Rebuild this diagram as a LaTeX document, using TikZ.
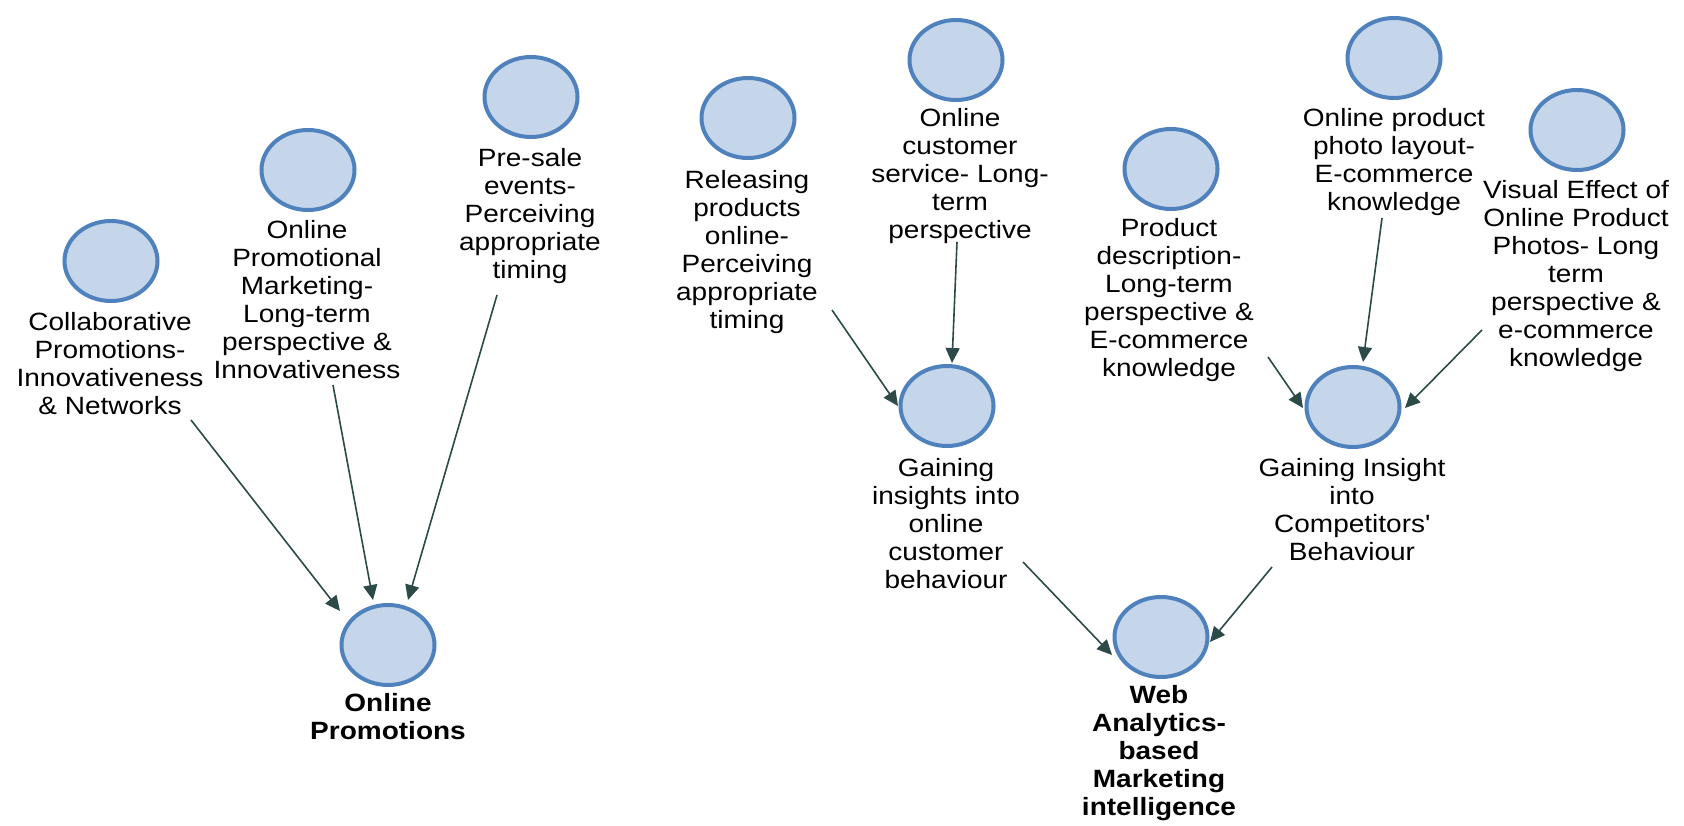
\documentclass[tikz,border=0pt]{standalone}
\usepackage{fontspec}
\setmainfont{Liberation Sans}[FakeStretch=1.12]
\usetikzlibrary{shapes.geometric,arrows.meta}
\definecolor{bubblefill}{RGB}{197,214,234}
\definecolor{bubbleline}{RGB}{79,129,189}
\definecolor{linkcol}{RGB}{44,74,72}
\begin{document}
\begin{tikzpicture}[x=1pt,y=-1pt,
  bubble/.style={ellipse, draw=bubbleline, fill=bubblefill, line width=4pt,
    minimum width=93pt, minimum height=80pt, inner sep=0pt},
  lab/.style={anchor=north, align=center, inner sep=0pt,
    font=\fontsize{25}{28}\selectfont},
  keylab/.style={lab, font=\fontsize{25}{28}\selectfont\bfseries},
  link/.style={draw=linkcol, line width=1.6pt,
    -{Triangle[length=15pt,width=14pt]}}]
\fill[white] (0,0) rectangle (1684,826);
\useasboundingbox (0,0) rectangle (1684,826);

% concept bubbles
\node[bubble] (c1)  at (111,261) {};
\node[bubble] (c2)  at (308,170) {};
\node[bubble] (c3)  at (531,97)  {};
\node[bubble] (c4)  at (748,118) {};
\node[bubble] (c5)  at (956,60)  {};
\node[bubble] (c6)  at (1171,169) {};
\node[bubble] (c7)  at (1394,58) {};
\node[bubble] (c8)  at (1577,130) {};
\node[bubble] (c9)  at (947,406) {};
\node[bubble] (c10) at (1353,407) {};
\node[bubble] (c11) at (388,645) {};
\node[bubble] (c12) at (1161,637) {};

% captions under the bubbles
\node[lab] (l1) at (110,312) {Collaborative\\Promotions-\\Innovativeness\\\& Networks};
\node[lab] (l2) at (307,220) {Online\\Promotional\\Marketing-\\Long-term\\perspective \&\\Innovativeness};
\node[lab] (l3) at (530,148) {Pre-sale\\events-\\Perceiving\\appropriate\\timing};
\node[lab] (l4) at (747,170) {Releasing\\products\\online-\\Perceiving\\appropriate\\timing};
\node[lab] (l5) at (960,108) {Online\\customer\\service- Long-\\term\\perspective};
\node[lab] (l6) at (1169,218) {Product\\description-\\Long-term\\perspective \&\\E-commerce\\knowledge};
\node[lab] (l7) at (1394,108) {Online product\\photo layout-\\E-commerce\\knowledge};
\node[lab] (l8) at (1576,180) {Visual Effect of\\Online Product\\Photos- Long\\term\\perspective \&\\e-commerce\\knowledge};
\node[lab] (l9) at (946,458) {Gaining\\insights into\\online\\customer\\behaviour};
\node[lab] (l10) at (1352,458) {Gaining Insight\\into\\Competitors\textquotesingle\\Behaviour};
\node[keylab] (l11) at (388,693) {Online\\Promotions};
\node[keylab] (l12) at (1159,685) {Web\\Analytics-\\based\\Marketing\\intelligence};

% links
\draw[link] ([shift={(81,108)}]l1.north)  -- ([shift={(-48,-34)}]c11.center);
\draw[link] ([shift={(26,165)}]l2.north)  -- ([shift={(-15,-45)}]c11.center);
\draw[link] ([shift={(-33,147)}]l3.north) -- ([shift={(20,-45)}]c11.center);
\draw[link] ([shift={(85,140)}]l4.north)  -- ([shift={(-49,0)}]c9.center);
\draw[link] ([shift={(-3,134)}]l5.north)  -- ([shift={(5,-43)}]c9.center);
\draw[link] ([shift={(99,139)}]l6.north)  -- ([shift={(-50,1)}]c10.center);
\draw[link] ([shift={(-12,110)}]l7.north) -- ([shift={(10,-45)}]c10.center);
\draw[link] ([shift={(-94,150)}]l8.north) -- ([shift={(52,1)}]c10.center);
\draw[link] ([shift={(77,104)}]l9.north)  -- ([shift={(-49,18)}]c12.center);
\draw[link] ([shift={(-80,109)}]l10.north) -- ([shift={(49,5)}]c12.center);
\end{tikzpicture}
\end{document}
